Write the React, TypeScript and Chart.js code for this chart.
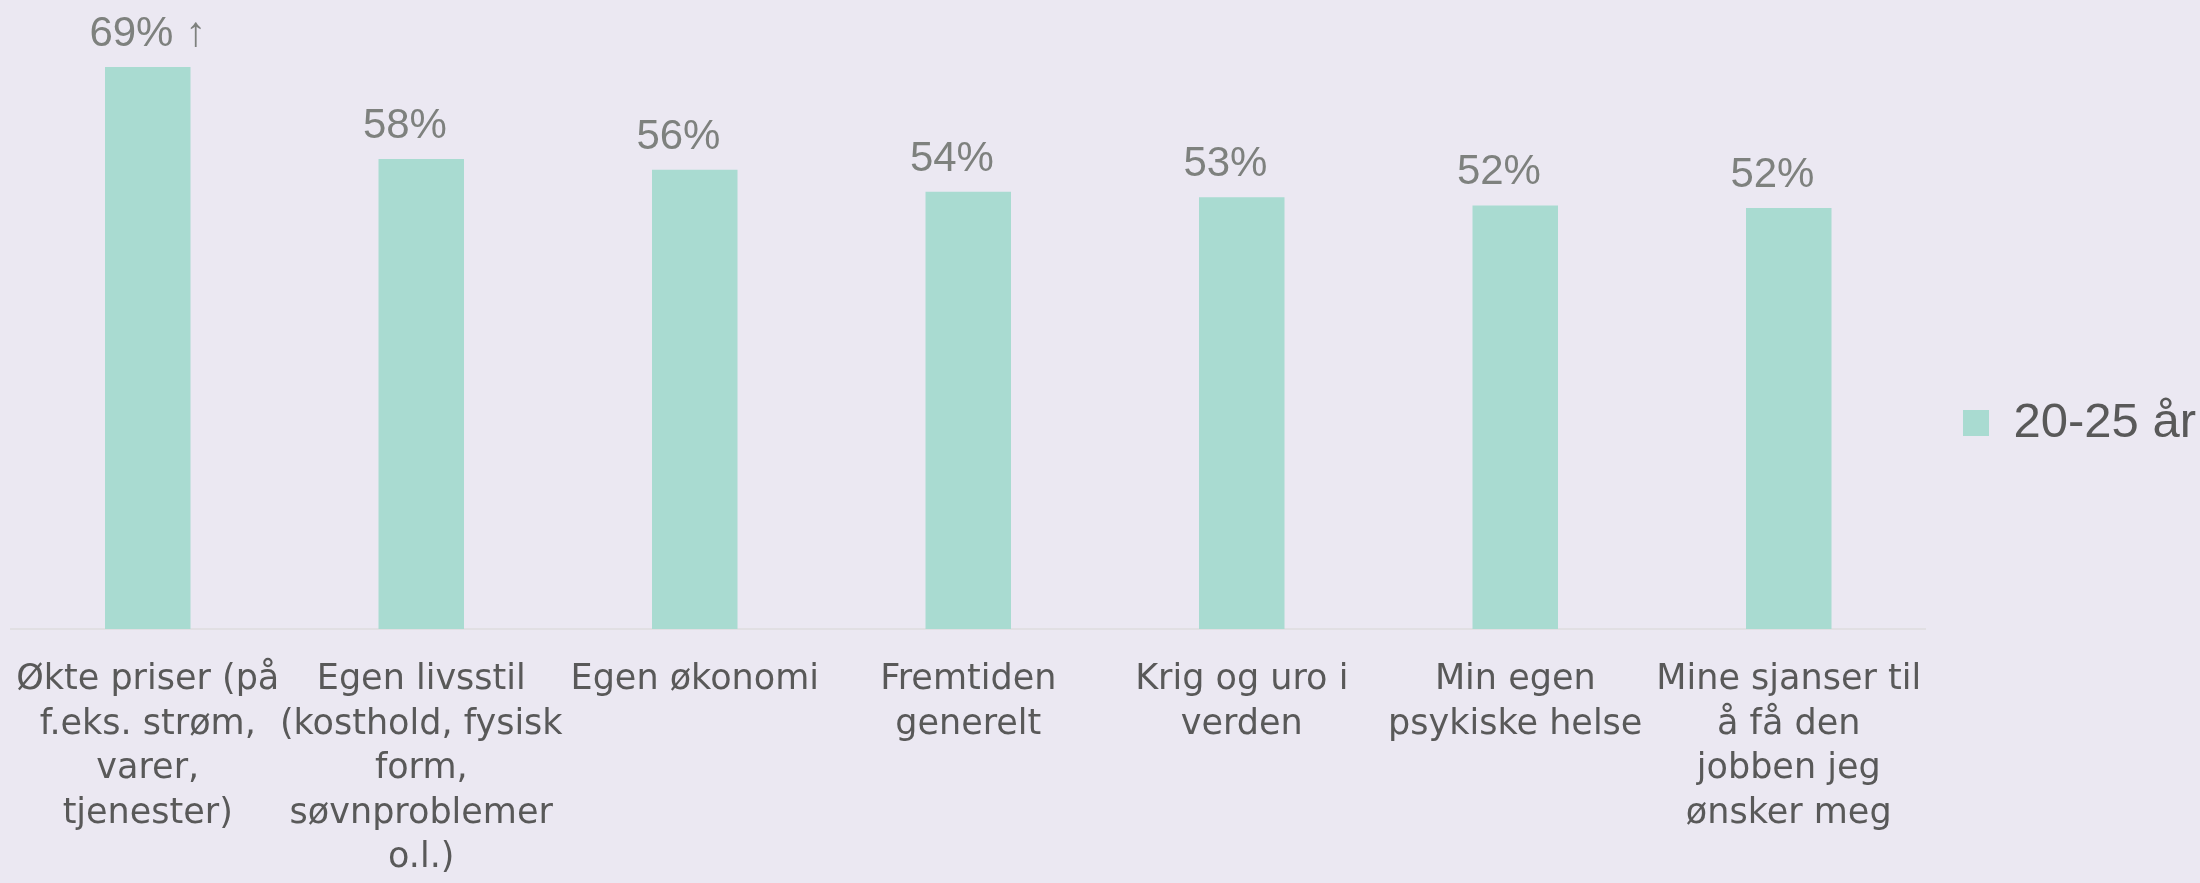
import React, { useEffect, useRef } from 'react';
import { Chart, registerables } from 'chart.js';

Chart.register(...registerables);

const categories: string[][] = [
  ['Økte priser (på', 'f.eks. strøm,', 'varer,', 'tjenester)'],
  ['Egen livsstil', '(kosthold, fysisk', 'form,', 'søvnproblemer', 'o.l.)'],
  ['Egen økonomi'],
  ['Fremtiden', 'generelt'],
  ['Krig og uro i', 'verden'],
  ['Min egen', 'psykiske helse'],
  ['Mine sjanser til', 'å få den', 'jobben jeg', 'ønsker meg'],
];

const seriesName = '20-25 år';
const values: number[] = [69, 57.7, 56.4, 53.7, 53.0, 52.0, 51.7];
const valueLabels: string[] = ['69% ↑', '58%', '56%', '54%', '53%', '52%', '52%'];

const BG = '#EBE8F2';
const BAR = '#A9DBD1';

export default function App() {
  const ref = useRef<HTMLCanvasElement>(null);

  useEffect(() => {
    if (!ref.current) return;
    const labelPlugin = {
      id: 'valueLabels',
      afterDatasetsDraw(chart: any) {
        const ctx = chart.ctx;
        const meta = chart.getDatasetMeta(0);
        ctx.save();
        ctx.font = '42px "Liberation Sans"';
        ctx.fillStyle = '#7E817E';
        ctx.textBaseline = 'alphabetic';
        ctx.textAlign = 'left';
        const off = ctx.measureText(valueLabels[0]).width / 2;
        meta.data.forEach((bar: any, i: number) => {
          ctx.fillText(valueLabels[i], bar.x - off, bar.y - 21);
        });
        ctx.restore();
      },
    };

    const chart = new Chart(ref.current, {
      type: 'bar',
      data: {
        labels: categories,
        datasets: [
          {
            label: seriesName,
            data: values,
            backgroundColor: BAR,
            borderColor: BAR,
            borderWidth: 0,
            barPercentage: 0.3126,
            categoryPercentage: 1,
          },
        ],
      },
      options: {
        responsive: false,
        animation: false,
        layout: { padding: { top: 10, left: 11, right: -6, bottom: 0 } },
        scales: {
          x: {
            grid: { display: false, drawTicks: false, tickLength: 0 },
            border: { display: true, color: '#E1DFE3', width: 2 },
            ticks: {
              color: '#595959',
              font: { family: '"DejaVu Sans"', size: 35, lineHeight: 1.27 },
              maxRotation: 0,
              minRotation: 0,
              autoSkip: false,
              padding: 29,
            },
            afterFit(scale: any) {
              scale.height = 254;
              scale.paddingLeft = 0;
              scale.paddingRight = 0;
            },
          },
          y: { display: false, min: 0, max: 76 },
        },
        plugins: {
          legend: {
            position: 'right',
            align: 'start',
            title: {
              display: true,
              text: ' ',
              font: { size: 10, lineHeight: 1 },
              padding: { top: 341, bottom: 0 },
            },
            labels: {
              boxWidth: 26,
              boxHeight: 26,
              padding: 37.5,
              color: '#595959',
              font: { family: '"Liberation Sans"', size: 49 },
            },
          },
          tooltip: { enabled: false },
        },
      },
      plugins: [labelPlugin],
    });
    return () => chart.destroy();
  }, []);

  return (
    <div
      style={{
        position: 'fixed',
        left: 0,
        top: 0,
        width: 2200,
        height: 883,
        background: BG,
      }}
    >
      <canvas ref={ref} width={2200} height={883} style={{ display: 'block' }} />
    </div>
  );
}
